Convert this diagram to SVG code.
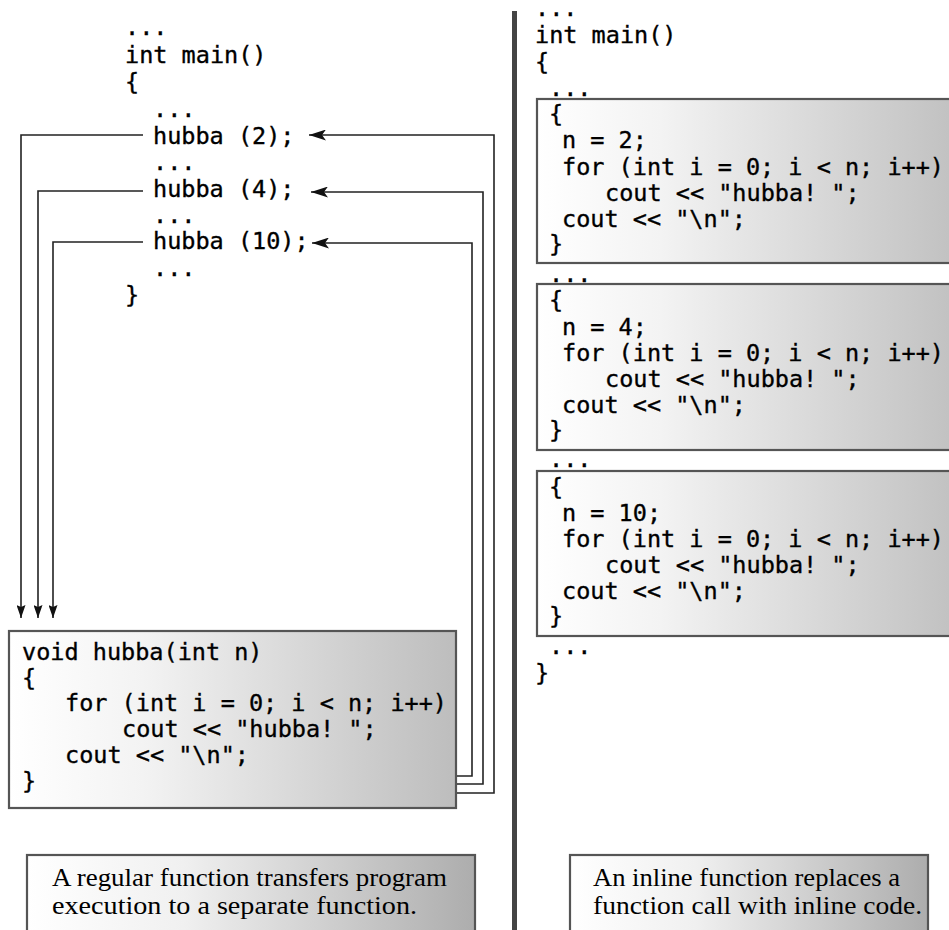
<svg xmlns="http://www.w3.org/2000/svg" width="949" height="930" viewBox="0 0 949 930">
<style>
.code{font-family:"DejaVu Sans Mono","Liberation Mono",monospace;font-size:23.5px;fill:#000;stroke:#000;stroke-width:0.35;}
.cap{font-family:"Liberation Serif","Times New Roman",serif;font-size:25px;fill:#000;}
.box{stroke:#555;stroke-width:2.2;}
.conn{fill:none;stroke:#222;stroke-width:1.6;}
</style>
<defs>
<linearGradient id="g" x1="0" y1="0" x2="1" y2="0">
<stop offset="0" stop-color="#ffffff"/>
<stop offset="0.3" stop-color="#f3f3f3"/>
<stop offset="1" stop-color="#bdbdbd"/>
</linearGradient>
<linearGradient id="gc" x1="0" y1="0" x2="1" y2="0">
<stop offset="0" stop-color="#ffffff"/>
<stop offset="0.35" stop-color="#f0f0f0"/>
<stop offset="1" stop-color="#adadad"/>
</linearGradient>
<linearGradient id="gr" gradientUnits="userSpaceOnUse" x1="537" y1="0" x2="949" y2="0">
<stop offset="0" stop-color="#ffffff"/>
<stop offset="0.3" stop-color="#f3f3f3"/>
<stop offset="1" stop-color="#c2c2c2"/>
</linearGradient>
<marker id="al" viewBox="0 0 17 11" refX="17" refY="5.5" markerWidth="17" markerHeight="11" markerUnits="userSpaceOnUse" orient="auto">
<path d="M0,0 L17,5.5 L0,11 L4,5.5 z" fill="#111"/>
</marker>
<marker id="ad" viewBox="0 0 13 9" refX="13" refY="4.5" markerWidth="13" markerHeight="9" markerUnits="userSpaceOnUse" orient="auto">
<path d="M0,0 L13,4.5 L0,9 L2,4.5 z" fill="#111"/>
</marker>
</defs>
<rect width="949" height="930" fill="#fff"/>

<g id="divider"><rect x="512" y="11" width="5" height="919" fill="#444"/></g>

<g id="main-regular">
<text class="code" x="125" y="35">...</text>
<text class="code" x="125" y="63">int main()</text>
<text class="code" x="125" y="90">{</text>
<text class="code" x="153" y="117">...</text>
<text class="code" x="153" y="144">hubba (2);</text>
<text class="code" x="153" y="170">...</text>
<text class="code" x="153" y="197">hubba (4);</text>
<text class="code" x="153" y="223">...</text>
<text class="code" x="153" y="249">hubba (10);</text>
<text class="code" x="153" y="276">...</text>
<text class="code" x="125" y="303">}</text>
</g>

<g id="hubba-func">
<rect class="box" x="9" y="631" width="447" height="177" fill="url(#g)"/>
<text class="code" x="22" y="660">void hubba(int n)</text>
<text class="code" x="22" y="686">{</text>
<text class="code" x="65" y="711">for (int i = 0; i &lt; n; i++)</text>
<text class="code" x="122" y="737">cout &lt;&lt; "hubba! ";</text>
<text class="code" x="65" y="763">cout &lt;&lt; "\n";</text>
<text class="code" x="22" y="789">}</text>
</g>

<g id="connectors">
<path class="conn" d="M143,135 H21 V618" marker-end="url(#ad)"/>
<path class="conn" d="M143,191 H38 V618" marker-end="url(#ad)"/>
<path class="conn" d="M143,242 H53 V618" marker-end="url(#ad)"/>
<path class="conn" d="M457,793 H494 V135 H309" marker-end="url(#al)"/>
<path class="conn" d="M457,784 H483 V192 H311" marker-end="url(#al)"/>
<path class="conn" d="M457,776 H472 V243 H312" marker-end="url(#al)"/>
</g>

<g id="main-inline">
<text class="code" x="535" y="16">...</text>
<text class="code" x="535" y="43">int main()</text>
<text class="code" x="535" y="70">{</text>
<text class="code" x="549" y="96">...</text>
<text class="code" x="549" y="282">...</text>
<text class="code" x="549" y="467">...</text>
<text class="code" x="549" y="654">...</text>
<text class="code" x="535" y="681">}</text>
</g>

<g id="inline-2">
<rect class="box" x="537" y="99" width="420" height="164" fill="url(#gr)"/>
<text class="code" x="549" y="122">{</text>
<text class="code" x="562" y="148">n = 2;</text>
<text class="code" x="562" y="175">for (int i = 0; i &lt; n; i++)</text>
<text class="code" x="605" y="201">cout &lt;&lt; "hubba! ";</text>
<text class="code" x="562" y="227">cout &lt;&lt; "\n";</text>
<text class="code" x="549" y="252">}</text>
</g>

<g id="inline-4">
<rect class="box" x="537" y="284" width="420" height="166" fill="url(#gr)"/>
<text class="code" x="549" y="308">{</text>
<text class="code" x="562" y="335">n = 4;</text>
<text class="code" x="562" y="361">for (int i = 0; i &lt; n; i++)</text>
<text class="code" x="605" y="387">cout &lt;&lt; "hubba! ";</text>
<text class="code" x="562" y="413">cout &lt;&lt; "\n";</text>
<text class="code" x="549" y="438">}</text>
</g>

<g id="inline-10">
<rect class="box" x="537" y="471" width="420" height="165" fill="url(#gr)"/>
<text class="code" x="549" y="495">{</text>
<text class="code" x="562" y="521">n = 10;</text>
<text class="code" x="562" y="547">for (int i = 0; i &lt; n; i++)</text>
<text class="code" x="605" y="573">cout &lt;&lt; "hubba! ";</text>
<text class="code" x="562" y="599">cout &lt;&lt; "\n";</text>
<text class="code" x="549" y="624">}</text>
</g>

<g id="caption-regular">
<rect class="box" x="27" y="855" width="448" height="90" fill="url(#gc)"/>
<text class="cap" x="52" y="886" textLength="395" lengthAdjust="spacingAndGlyphs">A regular function transfers program</text>
<text class="cap" x="52" y="914" textLength="365" lengthAdjust="spacingAndGlyphs">execution to a separate function.</text>
</g>

<g id="caption-inline">
<rect class="box" x="570" y="855" width="358" height="90" fill="url(#gc)"/>
<text class="cap" x="593" y="886" textLength="307" lengthAdjust="spacingAndGlyphs">An inline function replaces a</text>
<text class="cap" x="593" y="914" textLength="329" lengthAdjust="spacingAndGlyphs">function call with inline code.</text>
</g>
</svg>
